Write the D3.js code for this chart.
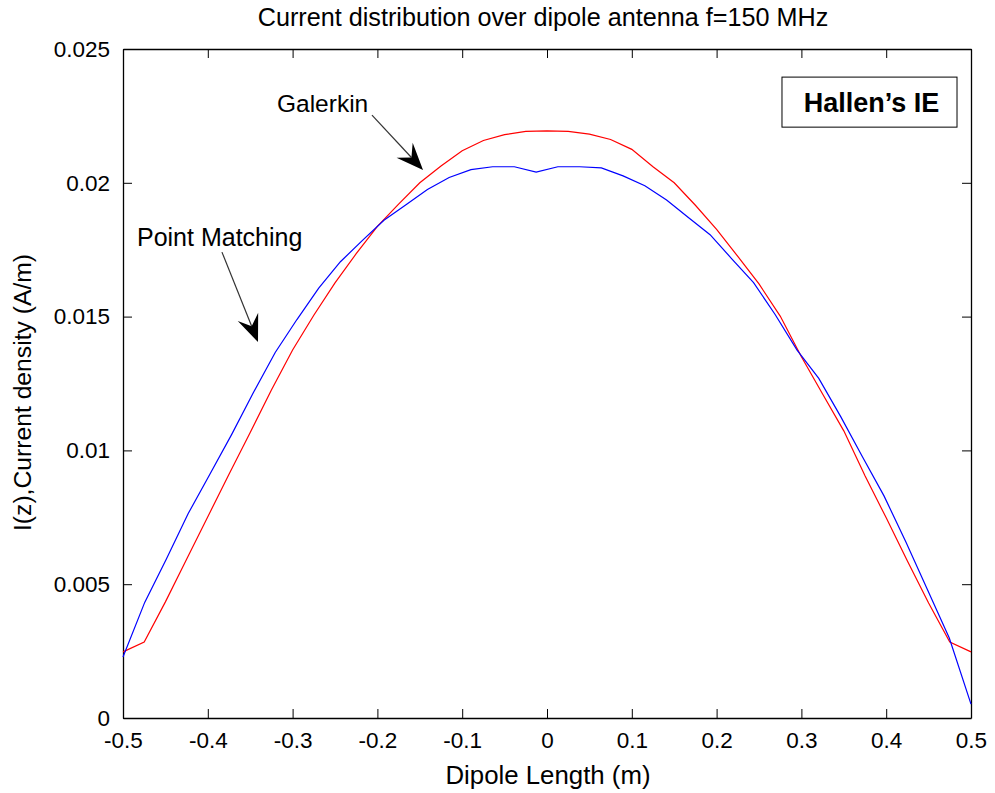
<!DOCTYPE html>
<html lang="en">
<head>
<meta charset="UTF-8">
<title>Current distribution over dipole antenna</title>
<script src="https://d3js.org/d3.v7.min.js"></script>
<style>
    body { margin: 0; background: #fff; }
    svg { display: block; font-family: "Liberation Sans", Arial, Helvetica, sans-serif; }
</style>
</head>
<body>
<div id="chart"></div>
<script>
// Galerkin (red) samples
const galerkinZ = [-0.5, -0.475, -0.45, -0.425, -0.4, -0.375, -0.35, -0.325, -0.3, -0.275,
    -0.25, -0.225, -0.2, -0.175, -0.15, -0.125, -0.1, -0.075, -0.05, -0.025, 0,
    0.025, 0.05, 0.075, 0.1, 0.125, 0.15, 0.175, 0.2, 0.225, 0.25,
    0.275, 0.3, 0.325, 0.35, 0.375, 0.4, 0.425, 0.45, 0.475, 0.5];
const galerkinI = [0.00247, 0.00284, 0.00434, 0.00593, 0.00752, 0.00911, 0.01067, 0.01226, 0.01375, 0.01505,
    0.01626, 0.01735, 0.01837, 0.0192, 0.0200, 0.02063, 0.0212, 0.02158, 0.0218, 0.02192, 0.02194,
    0.02192, 0.02182, 0.02162, 0.02125, 0.0206, 0.0200, 0.01916, 0.01826, 0.01725, 0.01622,
    0.01502, 0.0135, 0.01211, 0.01073, 0.00905, 0.00748, 0.00587, 0.0043, 0.00284, 0.00247];

// Point matching (blue) samples
const pointZ = [-0.5, -0.4744, -0.4487, -0.4231, -0.3974, -0.3718, -0.3462, -0.3205, -0.2949, -0.2692,
    -0.2436, -0.2179, -0.1923, -0.1667, -0.141, -0.1154, -0.0897, -0.0641, -0.0385, -0.0128,
    0.0128, 0.0385, 0.0641, 0.0897, 0.1154, 0.141, 0.1667, 0.1923, 0.2179, 0.2436,
    0.2692, 0.2949, 0.3205, 0.3462, 0.3718, 0.3974, 0.4231, 0.4487, 0.4744, 0.5];
const pointI = [0.00228, 0.00432, 0.00595, 0.00764, 0.00912, 0.0106, 0.01216, 0.01366, 0.01489, 0.01606,
    0.01705, 0.01784, 0.0186, 0.01917, 0.01975, 0.0202, 0.02049, 0.0206, 0.0206, 0.0204,
    0.0206, 0.0206, 0.02056, 0.02026, 0.01989, 0.01936, 0.0187, 0.01806, 0.01716, 0.01627,
    0.01507, 0.01375, 0.01269, 0.01127, 0.00977, 0.0083, 0.00659, 0.00479, 0.00299, 0.00052];

const xTicks = [-0.5, -0.4, -0.3, -0.2, -0.1, 0, 0.1, 0.2, 0.3, 0.4, 0.5];
const xTickLabels = ["-0.5", "-0.4", "-0.3", "-0.2", "-0.1", "0", "0.1", "0.2", "0.3", "0.4", "0.5"];
const yTicks = [0, 0.005, 0.01, 0.015, 0.02, 0.025];
const yTickLabels = ["0", "0.005", "0.01", "0.015", "0.02", "0.025"];

const W = 995, H = 793;
const margin = { top: 49, right: 24, bottom: 75, left: 123 };

const svg = d3.select("#chart").append("svg")
    .attr("width", W).attr("height", H);

const x = d3.scaleLinear().domain([-0.5, 0.5]).range([margin.left, W - margin.right]);
const y = d3.scaleLinear().domain([0, 0.025]).range([H - margin.bottom, margin.top]);

const tickFont = 22.5;

// box + ticks (inward, mirrored on top/right)
svg.append("g")
    .attr("transform", `translate(0,${y(0)})`)
    .call(d3.axisBottom(x).tickValues(xTicks).tickSize(-9).tickSizeOuter(0).tickPadding(14)
        .tickFormat((d, i) => xTickLabels[i]))
    .call(g => g.selectAll("text").attr("font-size", tickFont).attr("fill", "#000").attr("font-family", null));
svg.append("g")
    .attr("transform", `translate(0,${y(0.025)})`)
    .call(d3.axisTop(x).tickValues(xTicks).tickSize(-9).tickSizeOuter(0).tickFormat(""));
svg.append("g")
    .attr("transform", `translate(${x(-0.5)},0)`)
    .call(d3.axisLeft(y).tickValues(yTicks).tickSize(-9).tickSizeOuter(0).tickPadding(13)
        .tickFormat((d, i) => yTickLabels[i]))
    .call(g => g.selectAll("text").attr("font-size", tickFont).attr("fill", "#000").attr("font-family", null));
svg.append("g")
    .attr("transform", `translate(${x(0.5)},0)`)
    .call(d3.axisRight(y).tickValues(yTicks).tickSize(-9).tickSizeOuter(0).tickFormat(""));
svg.selectAll(".domain").attr("stroke", "#000").attr("stroke-width", 1.3);

// curves
const line = d3.line().x(d => x(d[0])).y(d => y(d[1]));
svg.append("path")
    .datum(galerkinZ.map((z, i) => [z, galerkinI[i]]))
    .attr("d", line).attr("fill", "none").attr("stroke", "#ff0000").attr("stroke-width", 1.2);
svg.append("path")
    .datum(pointZ.map((z, i) => [z, pointI[i]]))
    .attr("d", line).attr("fill", "none").attr("stroke", "#0000ff").attr("stroke-width", 1.2);

// titles
svg.append("text").attr("x", 543).attr("y", 26).attr("text-anchor", "middle")
    .attr("font-size", 25.2).text("Current distribution over dipole antenna f=150 MHz");
svg.append("text").attr("x", 548).attr("y", 784).attr("text-anchor", "middle")
    .attr("font-size", 25.8).text("Dipole Length (m)");
svg.append("text").attr("transform", `translate(31,${(y(0) + y(0.025)) / 2 + 9}) rotate(-90)`)
    .attr("text-anchor", "middle").attr("font-size", 24.7).text("I(z),Current density (A/m)");

// annotations with arrows
function arrow(from, to) {
    const x0 = x(from[0]), y0 = y(from[1]), x1 = x(to[0]), y1 = y(to[1]);
    const dx = x1 - x0, dy = y1 - y0, len = Math.hypot(dx, dy);
    const ux = dx / len, uy = dy / len, px = -uy, py = ux;
    const L = 27, hw = 11, notch = 17;
    svg.append("line").attr("x1", x0).attr("y1", y0)
        .attr("x2", x1 - ux * notch).attr("y2", y1 - uy * notch)
        .attr("stroke", "#333").attr("stroke-width", 1.2);
    const pts = [
        [x1, y1],
        [x1 - ux * L + px * hw, y1 - uy * L + py * hw],
        [x1 - ux * notch, y1 - uy * notch],
        [x1 - ux * L - px * hw, y1 - uy * L - py * hw]
    ];
    svg.append("path").attr("d", "M" + pts.map(p => p.join(",")).join("L") + "Z").attr("fill", "#000");
}

svg.append("text").attr("x", x(-0.3184)).attr("y", y(0.02265)).attr("font-size", 24.5).text("Galerkin");
arrow([-0.2064, 0.02253], [-0.1462, 0.02048]);
svg.append("text").attr("x", x(-0.4835)).attr("y", y(0.01764)).attr("font-size", 25).text("Point Matching");
arrow([-0.3833, 0.01741], [-0.3408, 0.01405]);

// method label box
svg.append("rect")
    .attr("x", x(0.2771)).attr("y", y(0.02395))
    .attr("width", x(0.4835) - x(0.2771)).attr("height", y(0.02208) - y(0.02395))
    .attr("fill", "#fff").attr("stroke", "#000").attr("stroke-width", 1);
svg.append("text").attr("x", (x(0.2771) + x(0.4835)) / 2 + 2).attr("y", (y(0.02395) + y(0.02208)) / 2 + 10)
    .attr("text-anchor", "middle").attr("font-size", 27).attr("font-weight", "bold")
    .text("Hallen’s IE");
</script>
</body>
</html>
